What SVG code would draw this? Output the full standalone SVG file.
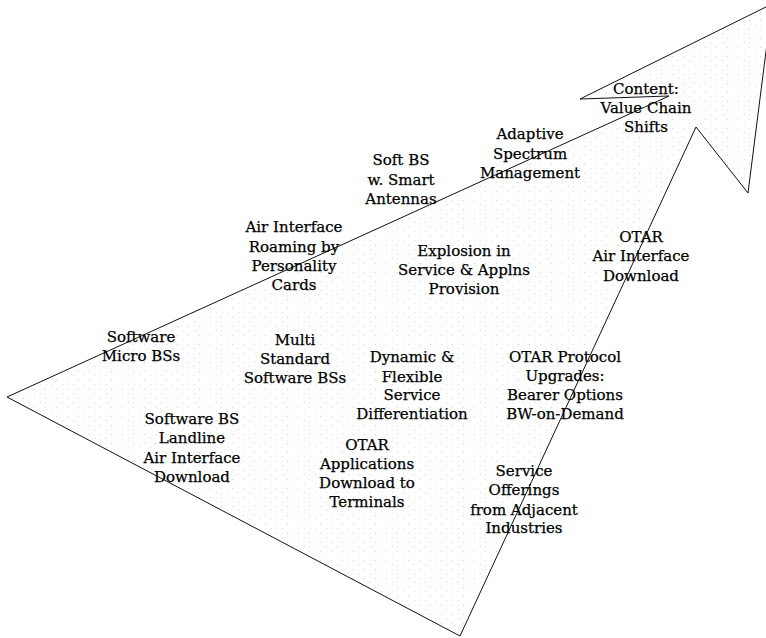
<svg xmlns="http://www.w3.org/2000/svg" width="766" height="638" viewBox="0 0 766 638">
<style>
.outline{fill:none;stroke:#111;stroke-width:1;stroke-linejoin:miter}
text{font-family:"DejaVu Serif","Liberation Serif",serif;font-size:15px;fill:#000;text-anchor:middle;stroke:#000;stroke-width:0.25}
</style>
<defs>
<pattern id="stip" width="11" height="9" patternUnits="userSpaceOnUse">
<rect x="1" y="2" width="1" height="1" fill="#d4d4d4"/>
<rect x="7" y="6" width="1" height="1" fill="#e2e2e2"/>
</pattern>
</defs>
<rect width="766" height="638" fill="#fff"/>
<g id="connectors">
<path class="outline" d="M7,397 L669,96 L580,99 L772,4 L748,193 L696,127 L460,636 Z" style="fill:url(#stip)"/>
</g>
<g id="n-content"><text x="646" y="94">Content:</text><text x="646" y="113">Value Chain</text><text x="646" y="132">Shifts</text></g>
<g id="n-adaptive"><text x="530" y="139">Adaptive</text><text x="530" y="159">Spectrum</text><text x="530" y="178">Management</text></g>
<g id="n-softbs"><text x="401" y="165">Soft BS</text><text x="401" y="185">w. Smart</text><text x="401" y="204">Antennas</text></g>
<g id="n-roaming"><text x="294" y="232">Air Interface</text><text x="294" y="252">Roaming by</text><text x="294" y="271">Personality</text><text x="294" y="290">Cards</text></g>
<g id="n-explosion"><text x="464" y="256">Explosion in</text><text x="464" y="275">Service &amp; Applns</text><text x="464" y="294">Provision</text></g>
<g id="n-otar-air"><text x="641" y="242">OTAR</text><text x="641" y="261">Air Interface</text><text x="641" y="281">Download</text></g>
<g id="n-micro"><text x="141" y="342">Software</text><text x="141" y="361">Micro BSs</text></g>
<g id="n-multi"><text x="295" y="345">Multi</text><text x="295" y="364">Standard</text><text x="295" y="383">Software BSs</text></g>
<g id="n-dynamic"><text x="412" y="362">Dynamic &amp;</text><text x="412" y="382">Flexible</text><text x="412" y="400">Service</text><text x="412" y="419">Differentiation</text></g>
<g id="n-protocol"><text x="565" y="362">OTAR Protocol</text><text x="565" y="381">Upgrades:</text><text x="565" y="400">Bearer Options</text><text x="565" y="419">BW-on-Demand</text></g>
<g id="n-landline"><text x="192" y="424">Software BS</text><text x="192" y="443">Landline</text><text x="192" y="463">Air Interface</text><text x="192" y="482">Download</text></g>
<g id="n-apps"><text x="367" y="450">OTAR</text><text x="367" y="469">Applications</text><text x="367" y="488">Download to</text><text x="367" y="507">Terminals</text></g>
<g id="n-offerings"><text x="524" y="476">Service</text><text x="524" y="495">Offerings</text><text x="524" y="515">from Adjacent</text><text x="524" y="533">Industries</text></g>
</svg>
